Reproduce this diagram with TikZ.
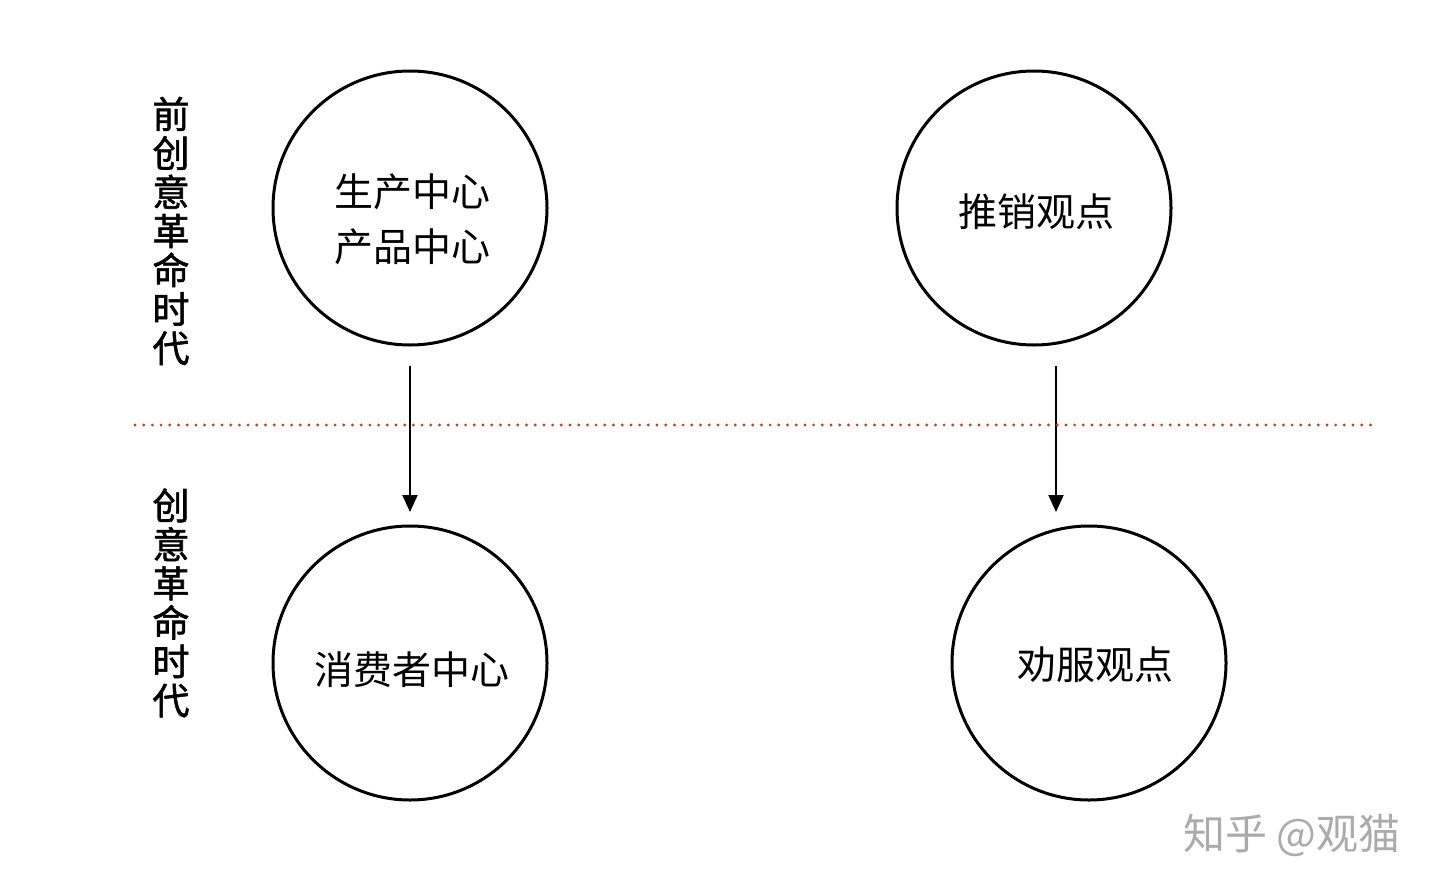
\documentclass[tikz,border=0pt]{standalone}
\usepackage{fontspec}
\newfontfamily\cjk{Noto Sans CJK SC}
\newfontfamily\cjkbold[FakeBold=1.5]{Noto Sans CJK SC}
\usetikzlibrary{arrows.meta}
\definecolor{dotred}{HTML}{B8452E}
\definecolor{wmgrey}{HTML}{ABABAB}
\begin{document}
\begin{tikzpicture}[x=1pt,y=-1pt,
  bubble/.style={draw=black,line width=3pt,circle,minimum size=274pt,inner sep=0pt},
  lbl/.style={align=center,inner sep=0pt,font=\cjk\fontsize{39}{55}\selectfont},
  era/.style={align=center,font=\cjkbold\fontsize{37}{39}\selectfont},
  flow/.style={draw=black,line width=2pt,-{Triangle[width=15pt,length=17pt]}}]
\useasboundingbox (0,0) rectangle (1440,894);
\node[bubble] (a) at (410,208) {};
\node[bubble] (b) at (1034,208) {};
\node[bubble] (c) at (410,663) {};
\node[bubble] (d) at (1089,663) {};
\node[lbl] (ta) at (412,219) {生产中心\\产品中心};
\node[lbl] (tb) at (1036,212) {推销观点};
\node[lbl] (tc) at (412,670) {消费者中心};
\node[lbl] (td) at (1095,665) {劝服观点};
\coordinate (a1) at (410,366);
\coordinate (a2) at (410,512);
\coordinate (b1) at (1056,366);
\coordinate (b2) at (1056,512);
\draw[flow] (a1) -- (a2);
\draw[flow] (b1) -- (b2);
\coordinate (l1) at (135,425);
\coordinate (l2) at (1378,425);
\draw[dotred,line width=3.2pt,line cap=round,dash pattern=on 0pt off 8.7pt] (l1) -- (l2);
\node[era] (e1) at (171,231) {前\\创\\意\\革\\命\\时\\代};
\node[era] (e2) at (171,603) {创\\意\\革\\命\\时\\代};
\node[font=\cjk\fontsize{42}{44}\selectfont,text=wmgrey] (w) at (1292,835) {知乎 @观猫};
\end{tikzpicture}
\end{document}
